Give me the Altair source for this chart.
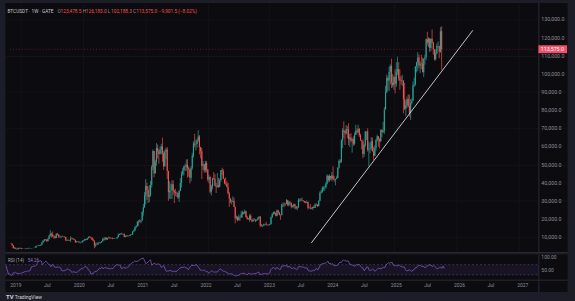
import altair as alt
import pandas as pd
import numpy as np

# ---------------- data (weekly BTCUSDT candles) ----------------
first_open = 7030

close_2018 = [6310, 6480, 6700, 7280, 6260, 6500, 6710, 6600, 6580, 6300, 6420, 6400, 6450, 6350,
              5560, 4010, 4100, 3510, 3250, 3950, 3850, 4040]
high_2018 = [7150, 6600, 6880, 7400, 7410, 6600, 6800, 6780, 6700, 6680, 6900, 6560, 6550, 6560,
             6500, 5640, 4450, 4200, 3600, 4200, 4250, 4100]
low_2018 = [6120, 5880, 6250, 6700, 6120, 6150, 6200, 6450, 6460, 6100, 6280, 6350, 6270, 6280,
            5200, 3550, 3650, 3350, 3150, 3210, 3550, 3680]

close_2019 = [3550, 3530, 3540, 3410, 3660, 3620, 3830, 3870, 3930, 4010, 3990, 4130, 5070, 5160,
              5300, 5270, 5750, 6980, 8050, 8740, 8730, 7710, 8860, 10690, 11880, 11230, 10600,
              10500, 9450, 11810, 11380, 10310, 10150, 10310, 10390, 10360, 10040, 8200, 8150,
              8320, 8220, 9250, 9200, 8810, 8500, 7320, 7400, 7520, 7100, 7150, 7320, 7760]
high_2019 = [4080, 3700, 3650, 3620, 3700, 3700, 4200, 3900, 3980, 4020, 4100, 4150, 5350, 5470,
             5380, 5630, 5800, 7200, 8350, 8950, 9000, 8800, 9400, 11200, 13850, 12400, 13150,
             11100, 10650, 12000, 12300, 11450, 10950, 10650, 10900, 10450, 10350, 10050, 8500,
             8850, 8420, 10500, 9800, 9450, 9100, 8500, 7900, 7750, 7600, 7500, 7650, 8200]
low_2019 = [3500, 3450, 3450, 3350, 3370, 3550, 3600, 3700, 3700, 3820, 3900, 3940, 4100, 4900,
            5020, 5050, 5250, 5700, 6800, 7500, 8100, 7450, 7600, 8850, 10300, 9700, 9850, 9100,
            9150, 9400, 11000, 9450, 9800, 9300, 10000, 9950, 9750, 7700, 7800, 7800, 7900, 7300,
            8900, 8600, 8350, 6800, 6900, 7250, 6880, 6450, 7050, 6900]

close_2020 = [8180, 8920, 8600, 9370, 10150, 9920, 9660, 8530, 8030, 5360, 5830, 5880, 6770, 6900,
              7120, 7700, 8900, 8720, 9680, 8720, 9450, 9660, 9380, 9300, 9010, 9070, 9230, 9160,
              9930, 11100, 11680, 11850, 11650, 11700, 10250, 10680, 10920, 10770, 10600, 11300,
              11500, 13030, 13800, 15480, 16050, 18420, 18180, 18800, 19160, 23850, 26450, 33000]
high_2020 = [8450, 9200, 8900, 9600, 10200, 10500, 10300, 9950, 9200, 8200, 6900, 6950, 7200, 7450,
             7300, 7800, 9450, 10000, 9900, 9850, 9700, 10400, 9950, 9800, 9750, 9300, 9450, 9280,
             10100, 12100, 11900, 12050, 12450, 11800, 12100, 10800, 11200, 11000, 10950, 11450,
             11750, 13350, 14100, 15950, 16500, 18800, 19450, 19900, 19450, 24300, 28400, 34800]
low_2020 = [7680, 8120, 8250, 8550, 9150, 9700, 9300, 8400, 7600, 3800, 4450, 5700, 5850, 6600,
            6500, 6800, 7650, 8100, 8200, 8700, 8650, 9300, 8950, 9200, 8830, 8900, 9050, 9050,
            9100, 9900, 10950, 11100, 11300, 11150, 9850, 9900, 10200, 10150, 10400, 10550, 11200,
            11400, 12950, 13250, 14850, 15850, 16200, 18200, 17600, 19000, 21800, 26100]

close_2021 = [38150, 36000, 32280, 33100, 38900, 48600, 57500, 45200, 51200, 59000, 57350, 55800,
              58200, 60000, 56150, 49000, 57000, 58240, 46400, 34700, 35700, 35800, 39100, 35600,
              34700, 34250, 34250, 31790, 35400, 39850, 44600, 47050, 49000, 48850, 49950, 48300,
              47250, 42700, 48200, 54950, 61550, 61000, 61300, 63300, 65500, 59700, 57300, 49400,
              50100, 46700, 50800, 47300]
high_2021 = [41950, 40100, 37900, 38600, 40950, 49700, 58350, 57500, 52650, 61800, 61100, 58450,
             60000, 61400, 64850, 57500, 58000, 59500, 59600, 46600, 40800, 39500, 41300, 41300,
             36100, 36600, 35100, 34700, 35800, 42600, 46200, 48150, 49350, 50500, 52900, 52900,
             48850, 47400, 49200, 56550, 62900, 67000, 63700, 64300, 69000, 66300, 59500, 59200,
             51950, 50100, 52100, 52000]
low_2021 = [28100, 30400, 28800, 29250, 32300, 37300, 47000, 43000, 44950, 49300, 53300, 50400,
            55700, 55500, 51500, 47000, 48800, 53000, 42100, 30000, 31100, 31000, 31000, 33350,
            28800, 32700, 32100, 31000, 29300, 35300, 37350, 43800, 43950, 46400, 46500, 42800,
            43350, 39600, 40700, 47100, 53900, 59500, 57800, 59400, 62300, 55600, 53500, 42000,
            47100, 45500, 45550, 45700]

close_2022 = [41800, 43100, 35050, 37900, 42400, 42200, 38350, 37700, 38400, 37800, 41300, 46800,
              46400, 42150, 39700, 39450, 37630, 34050, 31300, 29450, 29450, 29900, 26570, 20550,
              21000, 19300, 20850, 20800, 22580, 23650, 23170, 24300, 21150, 20050, 19800, 21800,
              19400, 18800, 19300, 19400, 19200, 19570, 20630, 21300, 16330, 16280, 16450, 17100,
              17100, 16780, 16840, 16610]
high_2022 = [47600, 44450, 43500, 38900, 42700, 45850, 44750, 39900, 45400, 42600, 42350, 46950,
             48250, 47500, 41550, 42950, 40800, 40000, 35000, 31450, 30650, 32400, 31750, 26900,
             21900, 21550, 22500, 21650, 24250, 24650, 23650, 25200, 24450, 21800, 20600, 22500,
             22800, 19950, 20400, 20450, 19950, 19700, 21050, 21450, 21450, 17200, 16800, 17400,
             17400, 18400, 17000, 16950]
low_2022 = [40600, 39650, 34000, 32900, 36300, 41650, 38000, 34300, 37200, 37150, 37550, 40500,
            44250, 41900, 39200, 38550, 37600, 33700, 26700, 28650, 28000, 29300, 26550, 17600,
            19650, 18650, 19250, 18900, 20750, 20700, 22400, 22700, 20750, 19550, 19550, 18500,
            19300, 18150, 18450, 19050, 18200, 18900, 19250, 20050, 15500, 15800, 15450, 16050,
            16700, 16350, 16300, 16350]

close_2023 = [17130, 20880, 22710, 23740, 23330, 21790, 24630, 23560, 22200, 22130, 28000, 27990,
              28450, 28330, 30300, 27600, 29230, 28900, 26780, 27100, 28070, 27120, 25900, 26340,
              30550, 30600, 30170, 30230, 29900, 29280, 29050, 29300, 26100, 26000, 25830, 25840,
              26530, 26250, 27970, 27950, 27110, 29990, 34500, 35020, 37050, 37450, 37450, 39470,
              43800, 41370, 43700, 42280]
high_2023 = [17400, 21300, 23250, 23950, 24250, 23450, 25250, 25000, 23900, 22600, 28400, 29000,
             29200, 28800, 31000, 30500, 30000, 29850, 28900, 27650, 28450, 28450, 27100, 26800,
             31400, 31250, 31500, 31800, 30350, 29900, 29750, 30200, 29650, 26800, 28150, 26400,
             26900, 27500, 28650, 28600, 28000, 30300, 35250, 35950, 38000, 37950, 38400, 40250,
             44700, 44000, 44700, 43800]
low_2023 = [16500, 17150, 20400, 22300, 22500, 21450, 21400, 22800, 21950, 19550, 21900, 26600,
            26500, 27200, 28300, 27100, 26950, 27700, 25800, 26350, 26100, 25350, 25350, 24800,
            26250, 29500, 29700, 29950, 29500, 28850, 28600, 28700, 25150, 25800, 25350, 25400,
            24900, 26000, 26050, 27200, 26550, 26900, 29850, 33950, 34500, 35550, 35650, 36700,
            38950, 40200, 40550, 41300]

close_2024 = [43930, 41700, 41600, 42030, 42580, 48300, 52130, 51730, 63100, 68950, 68400, 67200,
              69650, 69360, 63900, 64950, 63100, 63900, 61480, 66270, 68500, 67750, 69650, 66200,
              63250, 62700, 55850, 60800, 68160, 68250, 58120, 58700, 58960, 62800, 57300, 54850,
              59130, 63600, 65620, 63900, 62870, 69000, 68000, 68700, 80300, 89900, 97700, 96400,
              101200, 104400, 95200, 93700, 98300]
high_2024 = [45900, 49000, 43550, 42250, 43850, 48550, 52800, 52950, 64000, 70200, 73800, 68950,
             71750, 71300, 72800, 66850, 67250, 64700, 65500, 67700, 71950, 70000, 71950, 70200,
             66950, 63400, 63850, 61400, 68350, 68550, 70000, 62700, 61800, 65000, 64950, 59800,
             60650, 64100, 66500, 65550, 64500, 69400, 69500, 73600, 81800, 93450, 99600, 98700,
             104000, 105250, 108350, 99950, 99000]
low_2024 = [40750, 41500, 40500, 38550, 41900, 42600, 47700, 50600, 50900, 59000, 64500, 60800,
            66500, 64500, 60700, 59600, 62400, 56550, 60200, 60700, 66600, 66600, 67500, 65100,
            63250, 58400, 53500, 54300, 59750, 63500, 57150, 49000, 56150, 57800, 57200, 52550,
            54600, 57600, 62700, 59850, 58900, 62450, 65100, 67450, 66800, 80300, 89400, 90800,
            90500, 94200, 92100, 92500, 91200]

close_2025 = [94500, 101300, 102600, 97700, 96500, 96100, 96250, 86100, 80700, 82600, 86100, 82300,
              78400, 83800, 85100, 93700, 94300, 104100, 106400, 109000, 104600, 105700, 105600,
              100900, 108300, 109200, 119100, 117300, 119400, 114200, 119300, 117400, 113500,
              108200, 111100, 115300, 115300, 112200, 123478.5, 113575.0]
high_2025 = [102700, 106400, 109500, 106500, 102500, 98800, 99500, 96500, 95000, 85300, 87450,
             88750, 88500, 86100, 86500, 95750, 97900, 104350, 106700, 112000, 110700, 106800,
             110550, 108950, 108500, 110550, 119500, 123200, 120250, 119800, 119450, 124500,
             117600, 113700, 113400, 116700, 117900, 115500, 125700, 126183.0]
low_2025 = [89250, 92800, 99500, 96150, 91250, 94100, 93300, 78200, 80000, 76600, 81200, 81600,
            76250, 74500, 83050, 85100, 92800, 93400, 100750, 101450, 103100, 100400, 102600,
            100900, 98200, 105100, 107500, 115700, 114700, 112000, 112650, 116800, 110650, 107300,
            107300, 110700, 114400, 108650, 111650, 102188.3]

year_starts = ["2018-08-06", "2019-01-07", "2020-01-06", "2021-01-04", "2022-01-03",
               "2023-01-02", "2024-01-01", "2025-01-06"]
year_closes = [close_2018, close_2019, close_2020, close_2021, close_2022, close_2023, close_2024, close_2025]
year_highs = [high_2018, high_2019, high_2020, high_2021, high_2022, high_2023, high_2024, high_2025]
year_lows = [low_2018, low_2019, low_2020, low_2021, low_2022, low_2023, low_2024, low_2025]

# drawn trend line (two anchor points)
trend_dates = ["2023-09-02", "2026-04-07"]
trend_prices = [6700, 124000]

last_price = 113575.0
header_symbol = "BTCUSDT · 1W · GATE"
header_items = [("O", "123,478.5"), ("H", "126,183.0"), ("L", "102,188.3"), ("C", "113,575.0")]
header_change = "−9,901.5 (−8.02%)"

price_ticks = [10000, 20000, 30000, 40000, 50000, 60000, 70000, 80000, 90000, 100000,
               110000, 120000, 130000]
rsi_ticks = [50, 100]
time_tick_dates = ["2019-01-01", "2019-07-01", "2020-01-01", "2020-07-01", "2021-01-01",
                   "2021-07-01", "2022-01-01", "2022-07-01", "2023-01-01", "2023-07-01",
                   "2024-01-01", "2024-07-01", "2025-01-01", "2025-07-01", "2026-01-01",
                   "2026-07-01", "2027-01-01"]
time_tick_labels = ["2019", "Jul", "2020", "Jul", "2021", "Jul", "2022", "Jul", "2023", "Jul",
                    "2024", "Jul", "2025", "Jul", "2026", "Jul", "2027"]

# ---------------- table ----------------
frames = []
for s, c, h, l in zip(year_starts, year_closes, year_highs, year_lows):
    d = pd.date_range(s, periods=len(c), freq="7D")
    frames.append(pd.DataFrame({"date": d, "close": c, "high": h, "low": l}))
df = pd.concat(frames, ignore_index=True)
df["open"] = df["close"].shift(1).fillna(first_open)
df["dir"] = np.where(df["close"] >= df["open"], "up", "down")

delta = df["close"].diff()
gain = delta.clip(lower=0)
loss = -delta.clip(upper=0)
ag = gain.ewm(alpha=1 / 14, adjust=False).mean()
al = loss.ewm(alpha=1 / 14, adjust=False).mean()
df["rsi"] = 100 - 100 / (1 + ag / al)
rsi_last = df["rsi"].iloc[-1]

vis = df[df["date"] >= "2018-11-05"].copy()
vis["date"] = vis["date"].dt.strftime("%Y-%m-%d")

ptick_df = pd.DataFrame({"v": price_ticks, "label": [f"{v:,.1f}" for v in price_ticks]})
rtick_df = pd.DataFrame({"v": rsi_ticks, "label": [f"{v:.2f}" for v in rsi_ticks]})
ttick_df = pd.DataFrame({"date": time_tick_dates, "label": time_tick_labels})

# ---------------- styling ----------------
DARK = "#0c0b0f"
OUTER = "#1d1d27"
GRID = "#131317"
UP = "#26a69a"
DOWN = "#ef5350"
TXT = "#8e8e96"
SEP = "#2a2a33"
FONT = "Roboto"

x_dom = [alt.DateTime(year=2018, month=10, date=30, utc=True),
         alt.DateTime(year=2027, month=9, date=13, utc=True)]
x_end_pane = "2027-04-01"
x_start = "2018-10-30"

xscale = alt.Scale(type="utc", domain=x_dom)
color = alt.Color("dir:N", scale=alt.Scale(domain=["up", "down"], range=[UP, DOWN]), legend=None)

x_main = alt.X("date:T", scale=xscale, title=None,
               axis=alt.Axis(values=[alt.DateTime(year=y, month=m, date=1, utc=True)
                                     for y in range(2019, 2028) for m in (1, 7)],
                             orient="bottom", labels=False, ticks=False, domain=True,
                             domainColor=SEP, grid=True, gridColor=GRID))
pscale = alt.Scale(domain=[1800, 139300], nice=False, zero=False)
y_axis = alt.Axis(orient="right", offset=-29, values=price_ticks, labels=False, ticks=False,
                  domainColor=SEP, grid=True, gridColor=GRID)

base = alt.Chart(vis)
wicks = base.mark_rule(clip=True, strokeWidth=0.7).encode(
    x=x_main, y=alt.Y("low:Q", scale=pscale, axis=y_axis, title=None), y2="high:Q", color=color)
bodies = base.mark_bar(clip=True, size=1.1).encode(
    x=alt.X("date:T", scale=xscale), y=alt.Y("open:Q", scale=pscale), y2="close:Q", color=color)

trend_df = pd.DataFrame({"date": trend_dates, "price": trend_prices})
trend = alt.Chart(trend_df).mark_line(clip=True, color="#d9d9d9", strokeWidth=0.9).encode(
    x=alt.X("date:T", scale=xscale), y=alt.Y("price:Q", scale=pscale))

ptick_text = alt.Chart(ptick_df).mark_text(align="left", baseline="middle", fontSize=5.3,
                                           color=TXT, font=FONT).encode(
    x=alt.value(542), y=alt.Y("v:Q", scale=pscale), text="label:N")

pl_df = pd.DataFrame({"d1": [x_start], "d2": [x_end_pane], "p": [last_price]})
price_line = alt.Chart(pl_df).mark_rule(color=DOWN, opacity=0.45, strokeDash=[1, 2],
                                        strokeWidth=0.7).encode(
    x=alt.X("d1:T", scale=xscale), x2="d2:T", y=alt.Y("p:Q", scale=pscale))
price_box = alt.Chart(pl_df).mark_rule(color="#f0506a", strokeWidth=8, strokeCap="butt").encode(
    x=alt.value(539), x2=alt.value(568), y=alt.Y("p:Q", scale=pscale))
price_txt = alt.Chart(pl_df).mark_text(align="left", baseline="middle", fontSize=5.3,
                                       color="#ffffff", font=FONT).encode(
    x=alt.value(541.5), y=alt.Y("p:Q", scale=pscale), text=alt.value("113,575.0"))

hdr_df = pd.DataFrame({"t": [0]})
hdr_layers = [alt.Chart(hdr_df).mark_text(align="left", baseline="middle", fontSize=4.8,
                                          color="#c4c4cc", font=FONT).encode(
    x=alt.value(2.5), y=alt.value(9.3), text=alt.value(header_symbol))]
hx = 53
for lab, val in header_items:
    hdr_layers.append(alt.Chart(hdr_df).mark_text(align="left", baseline="middle", fontSize=4.8,
                                                  color=TXT, font=FONT).encode(
        x=alt.value(hx), y=alt.value(9.3), text=alt.value(lab)))
    hdr_layers.append(alt.Chart(hdr_df).mark_text(align="left", baseline="middle", fontSize=4.8,
                                                  color=DOWN, font=FONT).encode(
        x=alt.value(hx + 3.2), y=alt.value(9.3), text=alt.value(val)))
    hx += 25.5
hdr_layers.append(alt.Chart(hdr_df).mark_text(align="left", baseline="middle", fontSize=4.8,
                                              color=DOWN, font=FONT).encode(
    x=alt.value(hx + 0.5), y=alt.value(9.3), text=alt.value(header_change)))

main = alt.layer(wicks, bodies, trend, price_line, ptick_text, price_box, price_txt,
                 *hdr_layers).properties(
    width=568, height=252, view=alt.ViewBackground(fill=DARK, stroke="transparent"))

# ---------------- RSI pane ----------------
rscale = alt.Scale(domain=[-34.6, 111.5], nice=False, zero=False)
band_df = pd.DataFrame({"d1": [x_start], "d2": [x_end_pane], "hi": [70], "lo": [30]})
band = alt.Chart(band_df).mark_rect(color="#7e57c2", opacity=0.12).encode(
    x=alt.X("d1:T", scale=xscale), x2="d2:T", y=alt.Y("hi:Q", scale=rscale), y2="lo:Q")
band_hi = alt.Chart(band_df).mark_rule(color="#787b86", opacity=0.6, strokeDash=[2, 2],
                                       strokeWidth=0.6).encode(
    x=alt.X("d1:T", scale=xscale), x2="d2:T", y=alt.Y("hi:Q", scale=rscale))
band_lo = alt.Chart(band_df).mark_rule(color="#787b86", opacity=0.6, strokeDash=[2, 2],
                                       strokeWidth=0.6).encode(
    x=alt.X("d1:T", scale=xscale), x2="d2:T", y=alt.Y("lo:Q", scale=rscale))
x_rsi = alt.X("date:T", scale=xscale, title=None,
              axis=alt.Axis(orient="bottom", offset=-12, ticks=False, labels=False,
                            domainColor=SEP, grid=False))
rsi_line = alt.Chart(vis).mark_line(clip=True, color="#7e57c2", strokeWidth=0.8).encode(
    x=x_rsi,
    y=alt.Y("rsi:Q", scale=rscale, title=None,
            axis=alt.Axis(orient="right", offset=-29, values=rsi_ticks, labels=False,
                          ticks=False, domainColor=SEP, grid=False)))
rtick_text = alt.Chart(rtick_df).mark_text(align="left", baseline="middle", fontSize=5,
                                           color=TXT, font=FONT).encode(
    x=alt.value(542), y=alt.Y("v:Q", scale=rscale), text="label:N")
ttick_text = alt.Chart(ttick_df).mark_text(align="center", baseline="middle", fontSize=5,
                                           color=TXT, font=FONT).encode(
    x=alt.X("date:T", scale=xscale), y=alt.value(31.5), text="label:N")
rsi_lab = alt.Chart(hdr_df).mark_text(align="left", baseline="middle", fontSize=4.6,
                                      color="#a8a8b0", font=FONT).encode(
    x=alt.value(3), y=alt.value(7), text=alt.value("RSI (14)"))
rsi_val = alt.Chart(hdr_df).mark_text(align="left", baseline="middle", fontSize=4.6,
                                      color="#9575cd", font=FONT).encode(
    x=alt.value(23), y=alt.value(7), text=alt.value(f"{rsi_last:.2f}"))

rsi = alt.layer(band, band_hi, band_lo, rsi_line, rtick_text, ttick_text, rsi_lab,
                rsi_val).properties(
    width=568, height=38, view=alt.ViewBackground(fill=DARK, stroke="transparent"))

# ---------------- footer ----------------
logo = alt.Chart(hdr_df).mark_text(align="left", baseline="middle", fontSize=6, fontWeight="bold",
                                   color="#d1d4dc", font=FONT).encode(
    x=alt.value(1), y=alt.value(3.5), text=alt.value("TV"))
brand = alt.Chart(hdr_df).mark_text(align="left", baseline="middle", fontSize=5,
                                    color="#d1d4dc", font=FONT).encode(
    x=alt.value(10), y=alt.value(3.5), text=alt.value("TradingView"))
footer = alt.layer(logo, brand).properties(
    width=568, height=11, view=alt.ViewBackground(fill=OUTER, stroke="transparent"))

chart = alt.vconcat(main, rsi, footer, spacing=0).properties(
    padding={"left": 4, "right": 3, "top": 0, "bottom": 0},
    background=OUTER,
).configure_view(stroke="transparent")

chart.save("out.html", embed_options={"renderer": "svg", "actions": False})
